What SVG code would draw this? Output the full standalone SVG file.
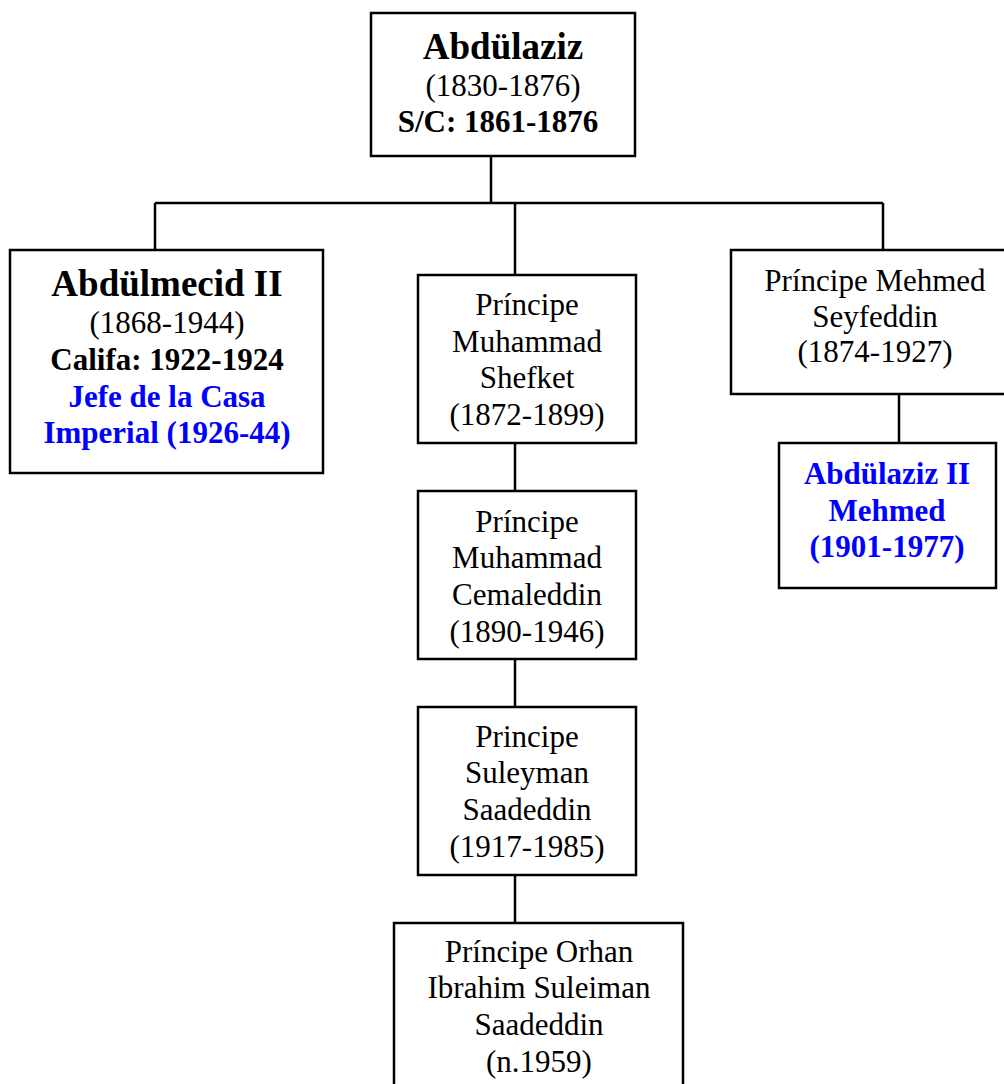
<svg xmlns="http://www.w3.org/2000/svg" width="1004" height="1084" viewBox="0 0 1004 1084">
<style>
.box{fill:#fff;stroke:#000;stroke-width:2.5}
.ln{stroke:#000;stroke-width:2.5;fill:none}
text{font-family:"Liberation Serif","Times New Roman",serif;font-size:31px;text-anchor:middle;fill:#000}
.b{font-weight:bold}
.t{font-size:37px;font-weight:bold}
.blue{fill:#0000ff;font-weight:bold}
</style>
<rect width="1004" height="1084" fill="#fff"/>
<g id="connectors">
<path class="ln" d="M491 156V203M155 203H883M155 203V250M515 203V275M883 203V250M899 394V443M515 443V491M515 659V707M515 875V923"/>
</g>
<g id="abdulaziz">
<rect class="box" x="371" y="13" width="264" height="143"/>
<text class="t" x="503" y="59">Abdülaziz</text>
<text x="503" y="96">(1830-1876)</text>
<text class="b" x="498" y="132">S/C: 1861-1876</text>
</g>
<g id="abdulmecid">
<rect class="box" x="10" y="250" width="313" height="223"/>
<text class="t" x="167" y="296">Abdülmecid II</text>
<text x="167" y="333">(1868-1944)</text>
<text class="b" x="167" y="370">Califa: 1922-1924</text>
<text class="blue" x="167" y="407">Jefe de la Casa</text>
<text class="blue" x="167" y="443">Imperial (1926-44)</text>
</g>
<g id="shefket">
<rect class="box" x="418" y="275" width="218" height="168"/>
<text x="527" y="315">Príncipe</text>
<text x="527" y="352">Muhammad</text>
<text x="527" y="388">Shefket</text>
<text x="527" y="425">(1872-1899)</text>
</g>
<g id="cemaleddin">
<rect class="box" x="418" y="491" width="218" height="168"/>
<text x="527" y="532">Príncipe</text>
<text x="527" y="568">Muhammad</text>
<text x="527" y="605">Cemaleddin</text>
<text x="527" y="642">(1890-1946)</text>
</g>
<g id="suleyman">
<rect class="box" x="418" y="707" width="218" height="168"/>
<text x="527" y="747">Principe</text>
<text x="527" y="783">Suleyman</text>
<text x="527" y="820">Saadeddin</text>
<text x="527" y="857">(1917-1985)</text>
</g>
<g id="orhan">
<rect class="box" x="394" y="923" width="289" height="180"/>
<text x="539" y="962">Príncipe Orhan</text>
<text x="539" y="998">Ibrahim Suleiman</text>
<text x="539" y="1035">Saadeddin</text>
<text x="539" y="1072">(n.1959)</text>
</g>
<g id="seyfeddin">
<rect class="box" x="731" y="250" width="287" height="144"/>
<text x="875" y="291">Príncipe Mehmed</text>
<text x="875" y="327">Seyfeddin</text>
<text x="875" y="362">(1874-1927)</text>
</g>
<g id="abdulaziz2">
<rect class="box" x="779" y="443" width="217" height="145"/>
<text class="blue" x="887" y="484">Abdülaziz II</text>
<text class="blue" x="887" y="521">Mehmed</text>
<text class="blue" x="887" y="557">(1901-1977)</text>
</g>
</svg>
